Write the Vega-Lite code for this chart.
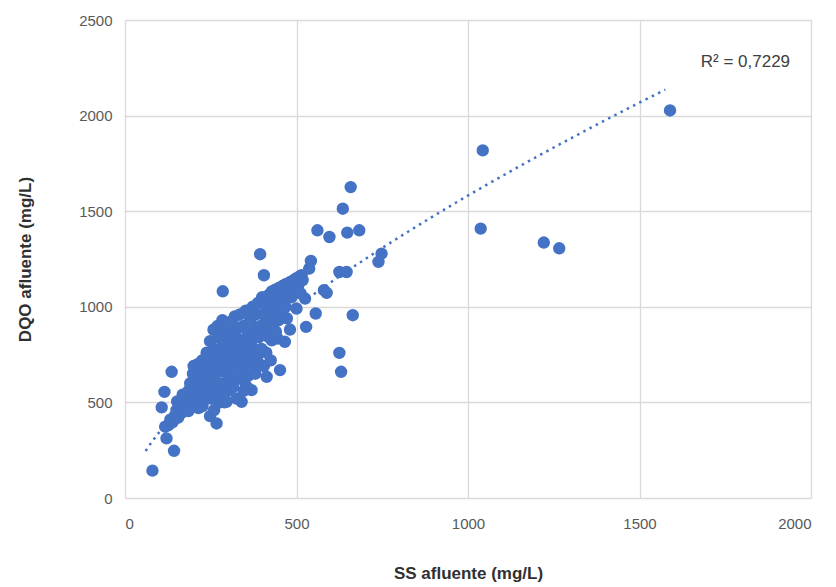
{
  "$schema": "https://vega.github.io/schema/vega-lite/v6.json",
  "width": 686,
  "height": 478,
  "autosize": "none",
  "padding": {"left": 125, "top": 20, "right": 25, "bottom": 89},
  "background": "white",
  "config": {"view": {"stroke": null}, "font": "Liberation Sans"},
  "data": {
    "values": [
      {"ss": 80, "dqo": 143}, {"ss": 121, "dqo": 312}, {"ss": 143, "dqo": 247}, {"ss": 117, "dqo": 373},
      {"ss": 107, "dqo": 474}, {"ss": 115, "dqo": 555}, {"ss": 136, "dqo": 660}, {"ss": 248, "dqo": 428},
      {"ss": 267, "dqo": 390}, {"ss": 296, "dqo": 503}, {"ss": 340, "dqo": 503}, {"ss": 369, "dqo": 564},
      {"ss": 413, "dqo": 634}, {"ss": 452, "dqo": 669}, {"ss": 428, "dqo": 825}, {"ss": 445, "dqo": 834},
      {"ss": 466, "dqo": 817}, {"ss": 481, "dqo": 881}, {"ss": 500, "dqo": 991}, {"ss": 528, "dqo": 895},
      {"ss": 556, "dqo": 965}, {"ss": 525, "dqo": 1043}, {"ss": 515, "dqo": 1165}, {"ss": 537, "dqo": 1200},
      {"ss": 542, "dqo": 1240}, {"ss": 580, "dqo": 1087}, {"ss": 588, "dqo": 1073}, {"ss": 625, "dqo": 1182},
      {"ss": 646, "dqo": 1182}, {"ss": 664, "dqo": 956}, {"ss": 625, "dqo": 759}, {"ss": 630, "dqo": 660},
      {"ss": 561, "dqo": 1400}, {"ss": 596, "dqo": 1365}, {"ss": 648, "dqo": 1388}, {"ss": 683, "dqo": 1400},
      {"ss": 635, "dqo": 1513}, {"ss": 658, "dqo": 1626}, {"ss": 748, "dqo": 1278}, {"ss": 739, "dqo": 1235},
      {"ss": 394, "dqo": 1275}, {"ss": 405, "dqo": 1165}, {"ss": 285, "dqo": 1081}, {"ss": 1043, "dqo": 1818},
      {"ss": 1037, "dqo": 1409}, {"ss": 1221, "dqo": 1336}, {"ss": 1266, "dqo": 1306}, {"ss": 1589, "dqo": 2027},

      {"ss": 126, "dqo": 380}, {"ss": 132, "dqo": 410}, {"ss": 138, "dqo": 395}, {"ss": 145, "dqo": 430},
      {"ss": 150, "dqo": 460}, {"ss": 155, "dqo": 420}, {"ss": 160, "dqo": 480}, {"ss": 165, "dqo": 445},
      {"ss": 170, "dqo": 500}, {"ss": 175, "dqo": 470}, {"ss": 178, "dqo": 520}, {"ss": 168, "dqo": 540},
      {"ss": 185, "dqo": 455}, {"ss": 190, "dqo": 500}, {"ss": 152, "dqo": 505},

      {"ss": 185, "dqo": 560}, {"ss": 190, "dqo": 600}, {"ss": 195, "dqo": 530}, {"ss": 198, "dqo": 650},
      {"ss": 200, "dqo": 690}, {"ss": 205, "dqo": 580}, {"ss": 208, "dqo": 620}, {"ss": 210, "dqo": 545},
      {"ss": 212, "dqo": 700}, {"ss": 215, "dqo": 660}, {"ss": 218, "dqo": 600}, {"ss": 220, "dqo": 510},
      {"ss": 222, "dqo": 640}, {"ss": 225, "dqo": 720}, {"ss": 228, "dqo": 570}, {"ss": 230, "dqo": 680},
      {"ss": 232, "dqo": 610}, {"ss": 235, "dqo": 540}, {"ss": 226, "dqo": 480}, {"ss": 214, "dqo": 470},

      {"ss": 238, "dqo": 760}, {"ss": 240, "dqo": 650}, {"ss": 242, "dqo": 700}, {"ss": 245, "dqo": 590},
      {"ss": 248, "dqo": 820}, {"ss": 250, "dqo": 740}, {"ss": 252, "dqo": 680}, {"ss": 255, "dqo": 630},
      {"ss": 258, "dqo": 880}, {"ss": 260, "dqo": 780}, {"ss": 262, "dqo": 560}, {"ss": 265, "dqo": 720},
      {"ss": 268, "dqo": 660}, {"ss": 270, "dqo": 900}, {"ss": 272, "dqo": 840}, {"ss": 275, "dqo": 600},
      {"ss": 278, "dqo": 760}, {"ss": 280, "dqo": 700}, {"ss": 282, "dqo": 540}, {"ss": 276, "dqo": 500},
      {"ss": 260, "dqo": 460}, {"ss": 250, "dqo": 520},

      {"ss": 284, "dqo": 930}, {"ss": 286, "dqo": 800}, {"ss": 288, "dqo": 660}, {"ss": 290, "dqo": 880},
      {"ss": 292, "dqo": 740}, {"ss": 294, "dqo": 600}, {"ss": 296, "dqo": 840}, {"ss": 298, "dqo": 700},
      {"ss": 300, "dqo": 780}, {"ss": 302, "dqo": 640}, {"ss": 305, "dqo": 920}, {"ss": 308, "dqo": 860},
      {"ss": 310, "dqo": 720}, {"ss": 312, "dqo": 800}, {"ss": 315, "dqo": 680}, {"ss": 318, "dqo": 760},
      {"ss": 320, "dqo": 950}, {"ss": 322, "dqo": 620}, {"ss": 325, "dqo": 840}, {"ss": 328, "dqo": 700},
      {"ss": 330, "dqo": 890}, {"ss": 300, "dqo": 560}, {"ss": 315, "dqo": 580}, {"ss": 325, "dqo": 520},
      {"ss": 290, "dqo": 500},

      {"ss": 332, "dqo": 770}, {"ss": 335, "dqo": 960}, {"ss": 338, "dqo": 660}, {"ss": 340, "dqo": 820},
      {"ss": 342, "dqo": 730}, {"ss": 345, "dqo": 900}, {"ss": 348, "dqo": 610}, {"ss": 350, "dqo": 780},
      {"ss": 352, "dqo": 980}, {"ss": 355, "dqo": 700}, {"ss": 358, "dqo": 860}, {"ss": 360, "dqo": 640},
      {"ss": 362, "dqo": 750}, {"ss": 365, "dqo": 930}, {"ss": 368, "dqo": 820}, {"ss": 370, "dqo": 700},
      {"ss": 372, "dqo": 1000}, {"ss": 375, "dqo": 780}, {"ss": 378, "dqo": 880}, {"ss": 380, "dqo": 650},
      {"ss": 356, "dqo": 580}, {"ss": 346, "dqo": 560},

      {"ss": 382, "dqo": 960}, {"ss": 385, "dqo": 740}, {"ss": 388, "dqo": 1020}, {"ss": 390, "dqo": 840},
      {"ss": 392, "dqo": 700}, {"ss": 395, "dqo": 900}, {"ss": 398, "dqo": 780}, {"ss": 400, "dqo": 1050},
      {"ss": 402, "dqo": 960}, {"ss": 405, "dqo": 690}, {"ss": 408, "dqo": 870}, {"ss": 410, "dqo": 1000},
      {"ss": 412, "dqo": 760}, {"ss": 415, "dqo": 920}, {"ss": 418, "dqo": 1060}, {"ss": 420, "dqo": 840},
      {"ss": 422, "dqo": 980}, {"ss": 425, "dqo": 720}, {"ss": 428, "dqo": 1080}, {"ss": 430, "dqo": 900},

      {"ss": 432, "dqo": 1020}, {"ss": 435, "dqo": 950}, {"ss": 438, "dqo": 1090}, {"ss": 440, "dqo": 870},
      {"ss": 442, "dqo": 1000}, {"ss": 445, "dqo": 1060}, {"ss": 448, "dqo": 930}, {"ss": 450, "dqo": 1100},
      {"ss": 455, "dqo": 1040}, {"ss": 458, "dqo": 980}, {"ss": 460, "dqo": 1110}, {"ss": 465, "dqo": 1060},
      {"ss": 468, "dqo": 1000}, {"ss": 470, "dqo": 1120}, {"ss": 472, "dqo": 940}, {"ss": 475, "dqo": 1080},

      {"ss": 482, "dqo": 1130}, {"ss": 485, "dqo": 1050}, {"ss": 488, "dqo": 1100}, {"ss": 492, "dqo": 1140},
      {"ss": 495, "dqo": 1080}, {"ss": 500, "dqo": 1150}, {"ss": 505, "dqo": 1110}, {"ss": 510, "dqo": 1160},
      {"ss": 512, "dqo": 1070}, {"ss": 518, "dqo": 1140}
    ]
  },
  "layer": [
    {
      "mark": {"type": "circle", "size": 154, "color": "#4472C4", "opacity": 1},
      "encoding": {
        "x": {
          "field": "ss", "type": "quantitative",
          "scale": {"domain": [0, 2000], "nice": false},
          "axis": {
            "values": [0, 500, 1000, 1500, 2000], "format": "d",
            "grid": true, "gridColor": "#d9d9d9", "gridWidth": 1.3,
            "domain": false, "ticks": false,
            "labelPadding": 18, "labelFontSize": 15, "labelColor": "#595959",
            "title": "SS afluente (mg/L)", "titleFontSize": 17, "titleFontWeight": "bold",
            "titleColor": "#303030", "titlePadding": 34
          }
        },
        "y": {
          "field": "dqo", "type": "quantitative",
          "scale": {"domain": [0, 2500], "nice": false},
          "axis": {
            "values": [0, 500, 1000, 1500, 2000, 2500], "format": "d",
            "grid": true, "gridColor": "#d9d9d9", "gridWidth": 1.3,
            "domain": false, "ticks": false,
            "labelPadding": 13, "labelFontSize": 15, "labelColor": "#595959",
            "title": "DQO afluente (mg/L)", "titleFontSize": 17, "titleFontWeight": "bold",
            "titleColor": "#303030", "titlePadding": 44
          }
        }
      }
    },
    {
      "transform": [
        {"regression": "dqo", "on": "ss", "method": "pow", "extent": [60, 1575]}
      ],
      "mark": {"type": "line", "color": "#4472C4", "strokeWidth": 2.5, "strokeDash": [2.5, 4.5]},
      "encoding": {
        "x": {"field": "ss", "type": "quantitative"},
        "y": {"field": "dqo", "type": "quantitative"}
      }
    },
    {
      "data": {"values": [{"label": "R² = 0,7229"}]},
      "mark": {"type": "text", "align": "right", "baseline": "middle", "fontSize": 17, "color": "#404040"},
      "encoding": {
        "x": {"datum": 1939, "type": "quantitative"},
        "y": {"datum": 2278, "type": "quantitative"},
        "text": {"field": "label"}
      }
    }
  ]
}
